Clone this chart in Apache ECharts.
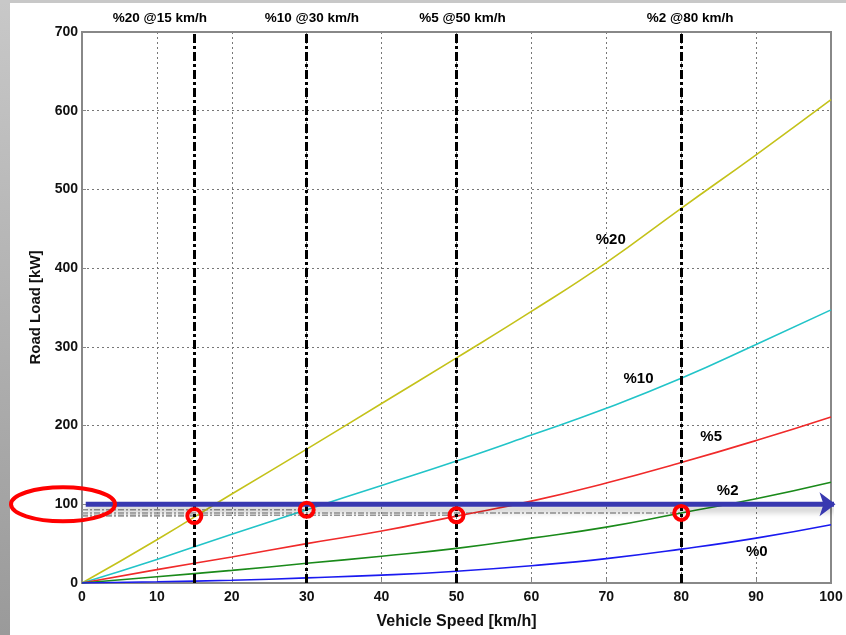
<!DOCTYPE html>
<html>
<head>
<meta charset="utf-8">
<script src="https://cdn.jsdelivr.net/npm/echarts@6/dist/echarts.min.js"></script>
<style>
  html, body { margin: 0; padding: 0; background: #fff; }
  #chart { width: 846px; height: 635px; }
</style>
</head>
<body>
<div id="chart"></div>
<script>
// road load vs speed
var speeds = [0, 10, 20, 30, 40, 50, 60, 70, 80, 90, 100];
var grade20 = [0, 55, 113, 170, 228, 286, 345, 407, 476, 544, 614];
var grade10 = [0, 30, 62, 93, 124, 155, 188, 222, 260, 303, 347];
var grade5 = [0, 17, 33, 50, 66, 85, 104, 127, 153, 181, 211];
var grade2 = [0, 8, 16, 25, 34, 44, 57, 71, 89, 107, 128];
var grade0 = [0, 1.5, 3.5, 6.5, 10, 15, 22, 31, 43, 57, 74];

// operating points (speed, load) with their header text
var opSpeeds = [15, 30, 50, 80];
var opLoads = [85, 93, 86, 89];
var opTitles = ['%20 @15 km/h', '%10 @30 km/h', '%5 @50 km/h', '%2 @80 km/h'];
var opTitleX = [10.4, 30.7, 50.8, 81.2];

// curve name labels
var curveNames = ['%20', '%10', '%5', '%2', '%0'];
var curveLabelPos = [[70.6, 436], [74.3, 259], [84.0, 186], [86.2, 117], [90.1, 40]];

var limitLoad = 100;
var arrowFrom = 0.5, arrowTo = 100.6;

var font = 'Arial, "Liberation Sans", Helvetica, sans-serif';

function pairs(ys) {
  return speeds.map(function (s, i) { return [s, ys[i]]; });
}

function curve(name, ys, color) {
  return {
    name: name, type: 'line', data: pairs(ys), smooth: true,
    symbol: 'none', z: 3,
    lineStyle: { color: color, width: 1.6 }
  };
}

function textLabel(size) {
  return {
    show: true, position: 'inside', formatter: '{b}',
    color: '#000', textBorderWidth: 0, textBorderColor: 'transparent',
    fontFamily: font, fontWeight: 'bold', fontSize: size
  };
}

var series = [];

// gray dash-dot guides from the y axis to each point
opSpeeds.forEach(function (s, i) {
  series.push({
    type: 'line', data: [[0, opLoads[i]], [s, opLoads[i]]], symbol: 'none', z: 2,
    lineStyle: { color: '#9a9a9a', width: 1.5, type: [6, 2, 2, 2] }
  });
});

series.push(curve('%20', grade20, '#c4c21a'));
series.push(curve('%10', grade10, '#22c4c8'));
series.push(curve('%5', grade5, '#f02a2a'));
series.push(curve('%2', grade2, '#1a8a1a'));
series.push(curve('%0', grade0, '#1a1af0'));

// vertical dash-dot marker lines
series.push({
  type: 'line', data: [], symbol: 'none', z: 4,
  markLine: {
    silent: true, symbol: 'none', label: { show: false },
    lineStyle: { color: '#000', width: 3, type: [9, 3, 3, 3] },
    data: opSpeeds.map(function (s) { return { xAxis: s }; })
  }
});

// the 100 kW arrow
series.push({
  type: 'line', z: 6, clip: false, silent: true,
  data: [
    { value: [arrowFrom, limitLoad], symbol: 'none' },
    { value: [arrowTo, limitLoad], symbol: 'arrow', symbolRotate: -90, symbolSize: [18, 16] }
  ],
  showSymbol: true,
  itemStyle: { color: '#3838b0', opacity: 1 },
  lineStyle: {
    color: '#3838b0', width: 5,
    shadowColor: 'rgba(0,0,0,0.25)', shadowBlur: 6, shadowOffsetY: 5
  }
});

// red rings on operating points
series.push({
  type: 'scatter', z: 7,
  data: opSpeeds.map(function (s, i) { return [s, opLoads[i]]; }),
  symbol: 'circle', symbolSize: 14,
  itemStyle: { color: 'rgba(255,255,255,0)', borderColor: '#ff0000', borderWidth: 4, opacity: 1 }
});

// curve names
series.push({
  type: 'scatter', z: 8, symbolSize: 0, silent: true,
  itemStyle: { opacity: 1, color: '#000' },
  data: curveLabelPos.map(function (p, i) { return { value: p, name: curveNames[i] }; }),
  label: textLabel(15)
});

// header texts above the plot
series.push({
  type: 'scatter', z: 8, symbolSize: 0, silent: true, clip: false,
  itemStyle: { opacity: 1, color: '#000' },
  data: opTitleX.map(function (x, i) { return { value: [x, 717.5], name: opTitles[i] }; }),
  label: textLabel(13.5)
});

var chart = echarts.init(document.getElementById('chart'), null, { renderer: 'canvas' });

var option = {
  backgroundColor: '#fff',
  animation: false,
  grid: { left: 82, top: 32, width: 749, height: 557, show: false },
  xAxis: {
    type: 'value', min: 0, max: 100, interval: 10,
    name: 'Vehicle Speed [km/h]', nameLocation: 'middle', nameGap: 31,
    nameTextStyle: { color: '#111', fontFamily: font, fontWeight: 'bold', fontSize: 16 },
    axisLine: { show: true, lineStyle: { color: '#888', width: 2 } },
    axisTick: { show: true, inside: true, length: 4, lineStyle: { color: '#888' } },
    axisLabel: { color: '#111', fontFamily: font, fontWeight: 'bold', fontSize: 14, margin: 7 },
    splitLine: { show: true, lineStyle: { color: '#777', width: 1, type: [2, 3] } }
  },
  yAxis: {
    type: 'value', min: 0, max: 700, interval: 100,
    name: 'Road Load [kW]', nameLocation: 'middle', nameGap: 38, nameRotate: 90,
    nameTextStyle: { color: '#111', fontFamily: font, fontWeight: 'bold', fontSize: 15 },
    axisLine: { show: true, lineStyle: { color: '#888', width: 2 } },
    axisTick: { show: true, inside: true, length: 4, lineStyle: { color: '#888' } },
    axisLabel: { color: '#111', fontFamily: font, fontWeight: 'bold', fontSize: 14, margin: 4 },
    splitLine: { show: true, lineStyle: { color: '#777', width: 1, type: [2, 3] } }
  },
  series: series
};

chart.setOption(option);

// frame on top/right + slide border + ellipse around the 100 label
var y100 = chart.convertToPixel({ gridIndex: 0 }, [0, limitLoad])[1];
var topLeft = chart.convertToPixel({ gridIndex: 0 }, [0, 700]);
var botRight = chart.convertToPixel({ gridIndex: 0 }, [100, 0]);
chart.setOption({
  graphic: [
    { type: 'rect', z: 1, shape: { x: topLeft[0], y: topLeft[1], width: botRight[0] - topLeft[0], height: botRight[1] - topLeft[1] },
      style: { fill: 'none', stroke: '#888', lineWidth: 2 } },
    { type: 'rect', z: 100, shape: { x: 0, y: 0, width: 10, height: 635 },
      style: { fill: new echarts.graphic.LinearGradient(0, 0, 0, 1, [{ offset: 0, color: '#c8c8c8' }, { offset: 1, color: '#9a9a9a' }]) } },
    { type: 'rect', z: 100, shape: { x: 0, y: 0, width: 846, height: 3 }, style: { fill: '#c8c8c8' } },
    { type: 'ellipse', z: 100, shape: { cx: 63, cy: y100, rx: 52, ry: 17 },
      style: { fill: 'none', stroke: '#ff0000', lineWidth: 4 } }
  ]
});
</script>
</body>
</html>
